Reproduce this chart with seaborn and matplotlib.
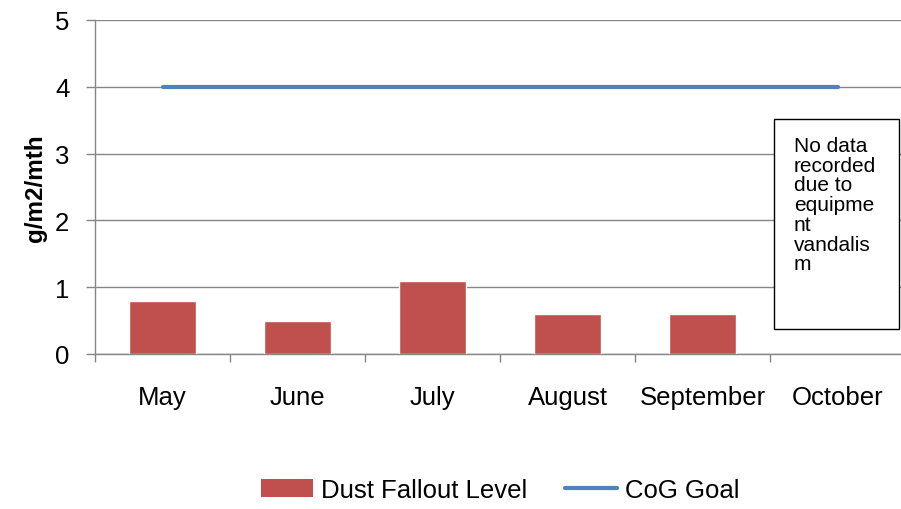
import numpy as np
import pandas as pd
import matplotlib.pyplot as plt
import seaborn as sns
from matplotlib.patches import Patch, Rectangle
from matplotlib.lines import Line2D

# --- data ---
months = ["May", "June", "July", "August", "September", "October"]
dust = [0.8, 0.5, 1.1, 0.6, 0.6, np.nan]
goal = [4, 4, 4, 4, 4, 4]

bar_color = "#C0504D"
line_color = "#4F81BD"
grid_color = "#868686"

sns.set_style("white")
plt.rcParams["font.family"] = ["Liberation Sans", "DejaVu Sans"]
plt.rcParams["text.color"] = "black"
plt.rcParams["xtick.color"] = "black"
plt.rcParams["ytick.color"] = "black"
plt.rcParams["axes.labelcolor"] = "black"

df = pd.DataFrame({"month": months, "dust": dust, "goal": goal})

fig = plt.figure(figsize=(9.01, 5.10), dpi=100)
ax = fig.add_axes([95 / 901, 1 - 355 / 510, 810 / 901, 334 / 510])

sns.barplot(data=df, x="month", y="dust", color=bar_color, width=0.5,
            saturation=1, ax=ax, zorder=3)
sns.lineplot(x=np.arange(len(months)), y=df["goal"], color=line_color,
             linewidth=3, ax=ax, zorder=4)

ax.set_xlim(-0.5, len(months) - 0.5)
ax.set_ylim(0, 5)
ax.set_yticks([0, 1, 2, 3, 4, 5])
ax.yaxis.grid(True, color=grid_color, linewidth=1)
ax.set_axisbelow(True)

for side in ["top", "right"]:
    ax.spines[side].set_visible(False)
for side in ["left", "bottom"]:
    ax.spines[side].set_color(grid_color)
    ax.spines[side].set_linewidth(1)

# category boundary ticks on x axis
ax.set_xticks(np.arange(len(months)))
ax.set_xticklabels(months)
ax.set_xticks(np.arange(len(months) + 1) - 0.5, minor=True)
ax.tick_params(axis="x", which="major", bottom=True, length=0, pad=22, labelsize=18.5)
ax.tick_params(axis="x", which="minor", bottom=True, length=6, width=1,
               color=grid_color, direction="out")
ax.tick_params(axis="y", left=True, length=6.5, width=1, color=grid_color,
               direction="out", pad=12, labelsize=18.5)

ax.set_xlabel("")
ax.set_ylabel("g/m2/mth", fontsize=17.5, fontweight="bold", labelpad=6)

# note box for October
fig.patches.append(Rectangle((774 / 901, 1 - 330 / 510), 125 / 901, 210 / 510,
                             transform=fig.transFigure, facecolor="white",
                             edgecolor="black", linewidth=1, zorder=5))
fig.text(794 / 901, 1 - 137 / 510,
         "No data\nrecorded\ndue to\nequipme\nnt\nvandalis\nm",
         fontsize=15, va="top", ha="left", linespacing=1.05, zorder=6)

handles = [Patch(facecolor=bar_color, edgecolor="none", label="Dust Fallout Level"),
           Line2D([0], [0], color=line_color, linewidth=3, label="CoG Goal")]
fig.legend(handles=handles, loc="center", bbox_to_anchor=(500 / 901, 1 - 491 / 510),
           ncol=2, frameon=False, fontsize=18.5, handlelength=2.05, handletextpad=0.3,
           columnspacing=1.45)

fig.savefig("out.png", dpi=100)
